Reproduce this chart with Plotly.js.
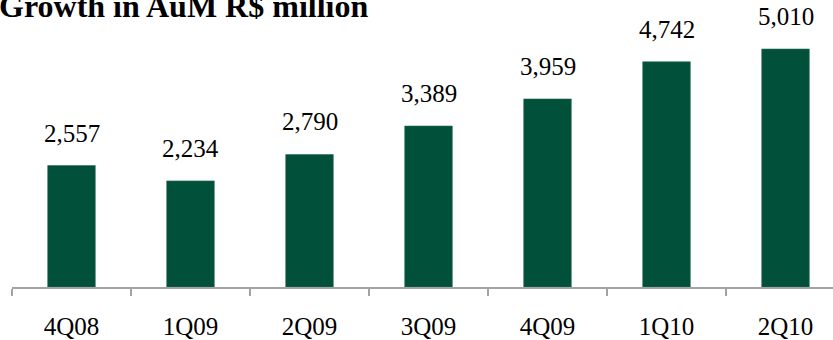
<!DOCTYPE html>
<html>
<head>
<meta charset="utf-8">
<script src="https://cdn.plot.ly/plotly-3.0.1.min.js"></script>
<style>html,body{margin:0;padding:0;background:#fff}#chart{width:833px;height:340px}</style>
</head>
<body>
<div id="chart"></div>
<script>
const categories = ["4Q08", "1Q09", "2Q09", "3Q09", "4Q09", "1Q10", "2Q10"];
const aum = [2557, 2234, 2790, 3389, 3959, 4742, 5010];
const valueLabels = ["2,557", "2,234", "2,790", "3,389", "3,959", "4,742", "5,010"];
const titleText = "Growth in AuM R$ million";

const serif = "'Liberation Serif', 'Times New Roman', serif";
const axisGrey = "#a3a3a3";

const trace = {
  type: "bar",
  x: categories,
  y: aum,
  width: 0.40,
  marker: {color: "#01503a", line: {color: "#2f6d58", width: 0.6}},
  hoverinfo: "skip"
};

const annotations = categories.map((c, i) => ({
  x: c, y: aum[i], xref: "x", yref: "y",
  text: valueLabels[i], showarrow: false,
  yanchor: "bottom", yshift: 17,
  font: {family: serif, size: 25, color: "#000"}
}));

annotations.push({
  xref: "paper", yref: "paper", x: 0, y: 1,
  xanchor: "left", yanchor: "bottom", xshift: -15, yshift: -26,
  text: "<b>" + titleText + "</b>", showarrow: false,
  font: {family: serif, size: 32, color: "#000"}
});

const layout = {
  width: 833, height: 340,
  margin: {l: 12, r: 0, t: 0, b: 53, pad: 0},
  paper_bgcolor: "#fff", plot_bgcolor: "#fff",
  showlegend: false,
  bargap: 0.6,
  xaxis: {
    type: "category",
    range: [-0.5, 6.399],
    showline: true, linecolor: axisGrey, linewidth: 2,
    ticks: "outside", tickson: "boundaries", ticklen: 7, tickwidth: 2, tickcolor: axisGrey,
    ticklabelstandoff: 16,
    tickfont: {family: serif, size: 25, color: "#000"},
    showgrid: false, zeroline: false, fixedrange: true
  },
  yaxis: {
    range: [0, 6042],
    visible: false, showgrid: false, zeroline: false, fixedrange: true
  },
  annotations: annotations
};

Plotly.newPlot("chart", [trace], layout, {displayModeBar: false, staticPlot: true});
</script>
</body>
</html>
